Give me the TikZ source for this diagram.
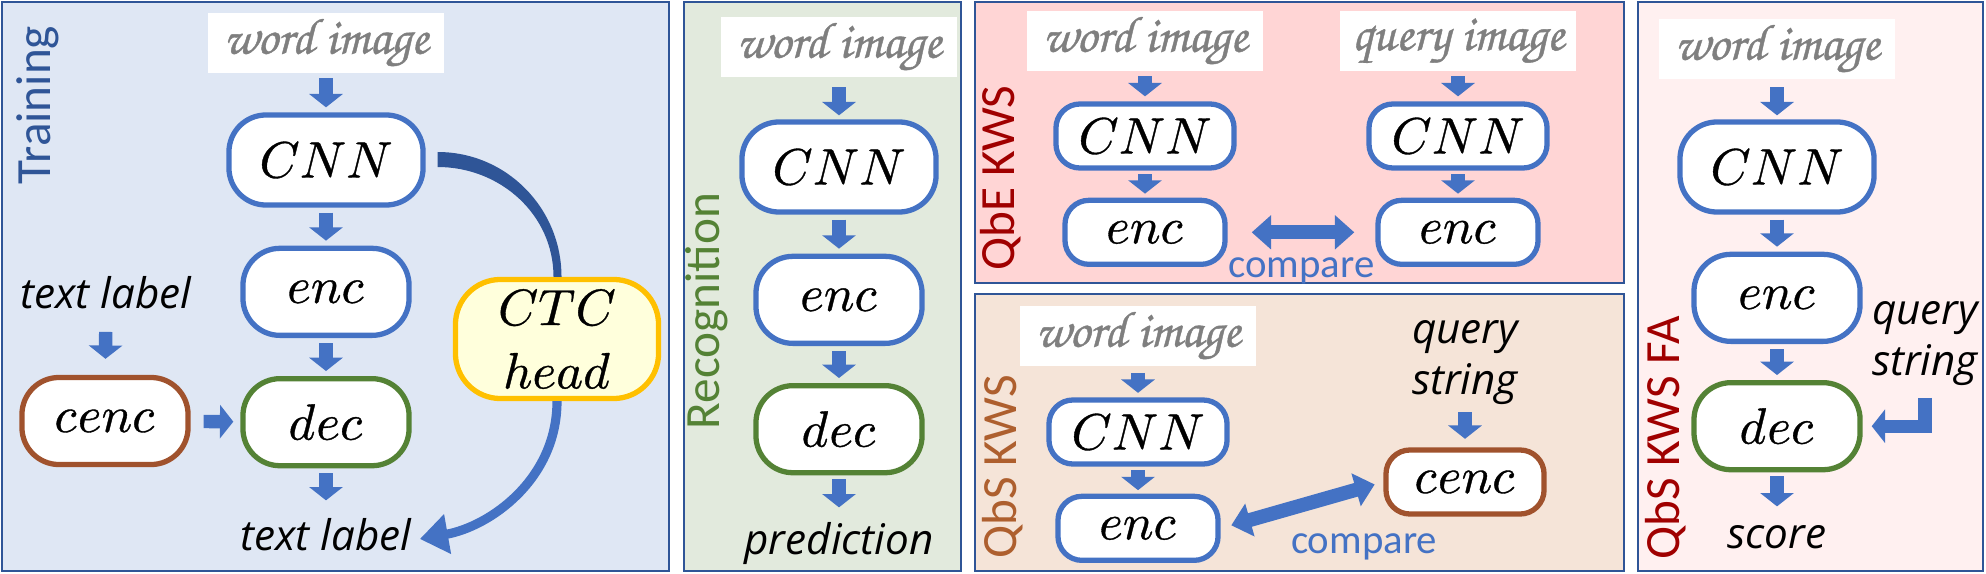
\documentclass[tikz,border=0pt]{standalone}
\usepackage{fontspec}
\usepackage{unicode-math}
\setmathfont[FakeBold=0.7]{latinmodern-math.otf}
\newfontfamily\legendfont{Open Sans}
\newfontfamily\titlefont{Carlito}
\newfontfamily\scriptfam[FakeBold=0.8]{texgyrechorus-mediumitalic.otf}
\usetikzlibrary{positioning,arrows.meta}

\definecolor{blueline}{HTML}{4472C4}
\definecolor{bluedark}{HTML}{2F5597}
\definecolor{greenline}{HTML}{548235}
\definecolor{brownline}{HTML}{A0522D}
\definecolor{browntext}{HTML}{AE5F2E}
\definecolor{yellowline}{HTML}{FFC000}
\definecolor{yellowfill}{HTML}{FFFFDC}
\definecolor{redtext}{HTML}{A00000}
\definecolor{wordgray}{HTML}{7F7F7F}
\definecolor{trainfill}{HTML}{DFE7F4}
\definecolor{recofill}{HTML}{E2EADD}
\definecolor{qbefill}{HTML}{FFD5D5}
\definecolor{qbsfill}{HTML}{F5E4D8}
\definecolor{fafill}{HTML}{FFF0F0}

\tikzstyle{panel} = [draw=bluedark, line width=0.8pt]
\tikzstyle{module} = [
        rectangle,
        rounded corners=0.37cm,
        minimum width=1.94cm,
        minimum height=0.9cm,
        inner sep=0pt,
        align=center,
        draw=blueline,
        line width=1.5pt,
        fill=white,
        font=\fontsize{14.5}{18}\selectfont
    ]
\tikzstyle{encbox} = [minimum width=1.66cm, minimum height=0.87cm]
\tikzstyle{shortbox} = [rounded corners=0.24cm, minimum width=1.78cm, minimum height=0.64cm]
\tikzstyle{shortenc} = [rounded corners=0.24cm, minimum width=1.6cm, minimum height=0.64cm]
\tikzstyle{decline} = [draw=greenline]
\tikzstyle{cencline} = [draw=brownline]
\tikzstyle{ctcbox} = [
        rounded corners=0.45cm,
        minimum width=2.03cm,
        minimum height=1.19cm,
        draw=yellowline,
        fill=yellowfill
    ]
\tikzstyle{wordimage} = [
        rectangle,
        inner sep=0pt,
        minimum width=2.35cm,
        minimum height=0.6cm,
        fill=white,
        text=wordgray,
        font=\scriptfam\fontsize{14.5}{17}\selectfont
    ]
\tikzstyle{legend} = [inner sep=0pt, align=center, font=\legendfont\itshape\fontsize{12}{14.5}\selectfont]
\tikzstyle{paneltitle} = [rotate=90, inner sep=0pt, font=\titlefont\fontsize{14}{17}\selectfont]
\tikzstyle{comparetext} = [inner sep=0pt, text=blueline, font=\titlefont\fontsize{11.6}{14}\selectfont]
\tikzstyle{flow} = [
        draw=blueline,
        line width=3.8pt,
        -{Triangle[width=9.4pt,length=3.8pt]},
        shorten <=0.05cm,
        shorten >=0.05cm
    ]
\tikzstyle{twoway} = [
        draw=blueline,
        line width=4pt,
        {Triangle[width=9.4pt,length=5.5pt]}-{Triangle[width=9.4pt,length=5.5pt]}
    ]
\tikzstyle{ctcfront} = [draw=blueline, line width=2.6pt, -{Triangle[width=11pt,length=8pt]}]

\begin{document}
\begin{tikzpicture}[x=0.01cm, y=-0.01cm, node distance=0.38cm]
        \useasboundingbox (0,0) rectangle (1986,573);
        \draw [panel, fill=trainfill] (2,2) rectangle (669,571);
        \draw [panel, fill=recofill] (684,2) rectangle (961,571);
        \draw [panel, fill=qbefill] (975,2) rectangle (1624,283);
        \draw [panel, fill=qbsfill] (975,294) rectangle (1624,571);
        \draw [panel, fill=fafill] (1638,2) rectangle (1983,571);

        \node [paneltitle, text=bluedark] (trainTitle) at (38,105) {Training};
        \node [paneltitle, text=greenline] (recoTitle) at (707,311) {Recognition};
        \node [paneltitle, text=redtext] (qbeTitle) at (1001,178) {QbE KWS};
        \node [paneltitle, text=browntext] (qbsTitle) at (1003,467) {QbS KWS};
        \node [paneltitle, text=redtext] (faTitle) at (1666,438) {QbS KWS FA};

        \node [module] (tCNN) at (326,160) {$CNN$};
        \node [wordimage, above=0.39cm of tCNN] (tImg) {word image};
        \node [module, encbox, below=of tCNN] (tEnc) {$enc$};
        \node [module, encbox, decline, below=of tEnc] (tDec) {$dec$};
        \node [legend, below=0.49cm of tDec] (tOut) {text label};
        \node [module, encbox, cencline] (tCenc) at (105,421) {$cenc$};
        \node [legend] (tIn) at (106,293) {text label};
        \node [module, ctcbox] (tCTC) at (557,339) {$CTC$\\$head$};
        \draw [flow] (tImg) -- (tCNN);
        \draw [flow] (tCNN) -- (tEnc);
        \draw [flow] (tEnc) -- (tDec);
        \draw [flow, shorten >=0.17cm] (tDec) -- (tOut);
        \draw [flow, shorten <=0.22cm, shorten >=0.16cm] (tIn) -- (tCenc);
        \draw [flow, shorten <=0.13cm, shorten >=0.07cm] (tCenc) -- (tDec);
        \fill [bluedark] ([shift={(12,-8)}]tCNN.east) to[out=0, in=90] ([xshift=0.045cm]tCTC.north)
            -- ([xshift=-0.035cm]tCTC.north) to[out=90, in=0] ([shift={(12,7)}]tCNN.east) -- cycle;
        \draw [ctcfront, shorten >=0.08cm] (tCTC.south) to[out=-90, in=10] ([yshift=-0.06cm]tOut.east);

        \node [module] (rCNN) at (839,167) {$CNN$};
        \node [wordimage, above=0.42cm of rCNN] (rImg) {word image};
        \node [module, encbox, below=0.39cm of rCNN] (rEnc) {$enc$};
        \node [module, encbox, decline, below=0.37cm of rEnc] (rDec) {$dec$};
        \node [legend, below=0.46cm of rDec] (rOut) {prediction};
        \draw [flow, shorten <=0.1cm, shorten >=0.04cm] (rImg) -- (rCNN);
        \draw [flow] (rCNN) -- (rEnc);
        \draw [flow] (rEnc) -- (rDec);
        \draw [flow, shorten <=0.04cm, shorten >=0.14cm] (rDec) -- (rOut);

        \node [module, shortbox] (eCNN1) at (1145,136) {$CNN$};
        \node [wordimage, above=0.3cm of eCNN1] (eImg1) {word image};
        \node [module, shortenc, below=0.27cm of eCNN1] (eEnc1) {$enc$};
        \node [module, shortbox] (eCNN2) at (1458,136) {$CNN$};
        \node [wordimage, above=0.3cm of eCNN2] (eImg2) {query image};
        \node [module, shortenc, below=0.27cm of eCNN2] (eEnc2) {$enc$};
        \draw [flow] (eImg1) -- (eCNN1);
        \draw [flow, shorten <=0.035cm, shorten >=0.04cm] (eCNN1) -- (eEnc1);
        \draw [flow] (eImg2) -- (eCNN2);
        \draw [flow, shorten <=0.035cm, shorten >=0.04cm] (eCNN2) -- (eEnc2);
        \draw [twoway, shorten <=0.24cm, shorten >=0.21cm] (eEnc1) -- (eEnc2) node[comparetext, midway, below=0.18cm]{compare};

        \node [module, shortbox] (sCNN) at (1138,432) {$CNN$};
        \node [wordimage, above=0.31cm of sCNN] (sImg) {word image};
        \node [module, shortenc, below=0.27cm of sCNN] (sEnc) {$enc$};
        \node [module, shortenc, cencline, minimum width=1.58cm] (sCenc) at (1465,482) {$cenc$};
        \node [legend, above=0.42cm of sCenc] (sQS) {query\\string};
        \draw [flow, shorten <=0.065cm, shorten >=0.045cm] (sImg) -- (sCNN);
        \draw [flow, shorten <=0.035cm, shorten >=0.035cm] (sCNN) -- (sEnc);
        \draw [flow, shorten <=0.07cm, shorten >=0.085cm] (sQS) -- (sCenc);
        \draw [twoway, shorten <=0.11cm, shorten >=0.09cm] (sEnc.east) -- (sCenc.west) node[comparetext, midway, anchor=north west, xshift=-0.18cm, yshift=-0.21cm]{compare};

        \node [module] (fCNN) at (1777,167) {$CNN$};
        \node [wordimage, above=0.4cm of fCNN] (fImg) {word image};
        \node [module, encbox, below=0.37cm of fCNN] (fEnc) {$enc$};
        \node [module, encbox, decline, below=0.36cm of fEnc] (fDec) {$dec$};
        \node [legend, below=0.52cm of fDec] (fOut) {score};
        \node [legend] (fQS) at (1925,344) {query\\string};
        \draw [flow, shorten <=0.08cm, shorten >=0.04cm] (fImg) -- (fCNN);
        \draw [flow] (fCNN) -- (fEnc);
        \draw [flow] (fEnc) -- (fDec);
        \draw [flow, shorten <=0.04cm, shorten >=0.18cm] (fDec) -- (fOut);
        \draw [flow, shorten <=0.11cm, shorten >=0.09cm] (fQS.south) |- (fDec.east);
    \end{tikzpicture}
\end{document}
